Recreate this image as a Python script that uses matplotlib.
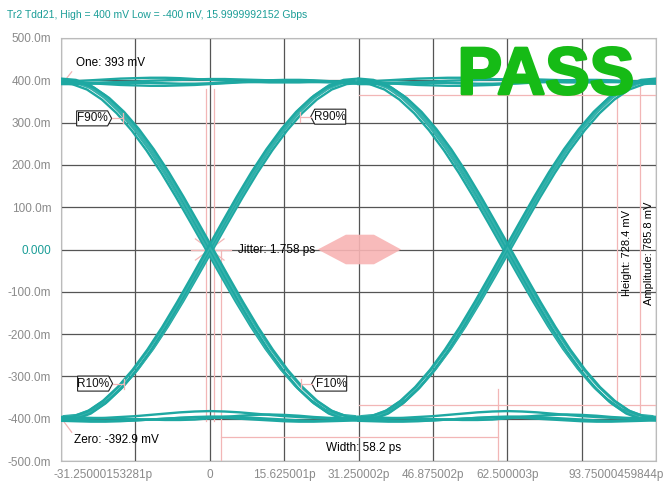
import numpy as np
import matplotlib
matplotlib.use("Agg")
from matplotlib import pyplot as plt
from matplotlib.patches import Polygon
import matplotlib.transforms as mtrans
import matplotlib.patheffects as pe

# ---- data ----
ui_ps = 62.5
# sample times across one transition (ps, relative to the crossing)
edge_t = [-31.25, -28.125, -25.0, -21.875, -18.75, -15.625, -12.5, -9.375, -6.25, -3.125, 0.0,
          3.125, 6.25, 9.375, 12.5, 15.625, 18.75, 21.875, 25.0, 28.125, 31.25]
# falling edge voltage (mV)
edge_mv = [400, 397, 384, 360, 327, 286, 238, 184, 125, 63, 0,
           -63, -125, -184, -238, -286, -327, -360, -384, -397, -400]
# per-trace timing offset (ps) and amplitude factor of the edges
edge_shift = [-0.8, -0.4, 0.0, 0.35, 0.75]
edge_gain = [0.985, 1.0, 1.01, 0.99, 0.995]
# ripple on the one / zero rails (mV) at the same sample times
hi_ripple = [
    [0, 1, 3, 5, 7, 8, 9, 9, 8, 6, 4, 2, 0, -1, -2, -2, -2, -1, 0, 0, 0],
    [0, -2, -4, -6, -8, -9, -10, -10, -9, -8, -6, -4, -2, -1, 0, 1, 1, 1, 0, 0, 0],
    [-4, -4, -3, -2, -1, 0, 2, 3, 4, 5, 6, 6, 5, 4, 3, 2, 0, -1, -2, -3, -4],
    [-6, -6, -5, -4, -3, -3, -3, -4, -5, -5, -4, -3, -1, 1, 3, 4, 4, 3, 1, -2, -5],
]
lo_ripple = [
    [0, 0, 1, 2, 4, 6, 9, 12, 15, 17, 18, 17, 15, 12, 9, 6, 4, 2, 1, 0, 0],
    [0, -2, -4, -5, -5, -4, -2, 0, 2, 4, 5, 5, 4, 2, 0, -2, -4, -5, -4, -2, 0],
    [3, 3, 2, 1, 0, -1, -2, -3, -3, -2, 1, 4, 7, 9, 10, 9, 7, 4, 2, 1, 0],
    [-5, -6, -7, -7, -6, -4, -2, 0, 2, 3, 3, 2, 0, -2, -4, -6, -7, -7, -6, -5, -4],
]
one_mv, zero_mv = 393.0, -392.9
height_top, height_bot = 364.5, -363.9
width_left, width_right = 2.3, 60.5
jitter_ps = 1.758
mask_t = [22.7, 28.6, 34.5, 40.2, 34.5, 28.6]
mask_mv = [0, 35, 35, 0, -35, -35]

xticks = [-31.25, -15.625, 0, 15.625, 31.25, 46.875, 62.5, 78.125, 93.75]
xticklabels = ["-31.25000153281p", "", "0", "15.625001p", "31.250002p", "46.875002p",
               "62.500003p", "", "93.75000459844p"]
yticks = [500, 400, 300, 200, 100, 0, -100, -200, -300, -400, -500]
yticklabels = ["500.0m", "400.0m", "300.0m", "200.0m", "100.0m", "0.000", "-100.0m",
               "-200.0m", "-300.0m", "-400.0m", "-500.0m"]

marker_names = ["F90%", "R90%", "R10%", "F10%"]
marker_t = [-18.3, 18.9, -18.1, 19.1]
marker_mv = [310, 314, -317, -317]
marker_side = ["left", "right", "left", "right"]

TEAL = "#1ea8a2"
PINK = "#f2b6b6"
plt.rcParams["font.family"] = ["Liberation Sans", "DejaVu Sans"]

fig = plt.figure(figsize=(6.63, 4.84), dpi=100)
ax = fig.add_axes([61 / 663, 23 / 484, 595 / 663, 423 / 484])
ax.set_xlim(-31.25, 93.75)
ax.set_ylim(-500, 500)

# ---- eye traces ----
t = np.array(edge_t)
e = np.array(edge_mv, dtype=float)
for w in range(2):
    base = w * ui_ps
    for i, (s, g) in enumerate(zip(edge_shift, edge_gain)):
        c = TEAL if i % 2 == 0 else "#35b2ac"
        ax.plot(t + base + s, e * g, color=c, lw=1.7, zorder=3)
        ax.plot(t + base - s * 0.8, -e * g, color=c, lw=1.7, zorder=3)
    for r in hi_ripple:
        ax.plot(t + base, 397 + np.array(r), color=TEAL, lw=1.7, zorder=3)
    for r in lo_ripple:
        ax.plot(t + base, -400 + np.array(r), color=TEAL, lw=1.7, zorder=3)

# ---- mask ----
ax.add_patch(Polygon(list(zip(mask_t, mask_mv)), closed=True, facecolor="#f8b4b4",
                     edgecolor="none", alpha=0.9, zorder=1))

# ---- measurement lines ----
lk = dict(color=PINK, lw=0.9, zorder=2)
ax.plot([-jitter_ps / 2] * 2, [380, -405], **lk)
ax.plot([jitter_ps / 2] * 2, [380, -405], **lk)
ax.plot([width_left] * 2, [0, -500], **lk)
ax.plot([width_right] * 2, [-330, -500], **lk)
ax.plot([width_left, width_right], [-444, -444], **lk)
ax.plot([31.25, 93.75], [height_top, height_top], **lk)
ax.plot([31.25, 93.75], [-368, -368], **lk)
ax.plot([85.5, 85.5], [height_top, -368], **lk)
ax.plot([90.3, 90.3], [one_mv, zero_mv], **lk)
ax.plot([-4, 4.5], [0, 0], **lk)
ax.plot([-3, 3], [-25, 25], **lk)
ax.plot([-3, 3], [25, -25], **lk)
ax.plot([-31.25, -29.0], [one_mv - 5, 420], **lk)
ax.plot([-31.25, -29.0], [zero_mv - 5, -432], **lk)

# ---- marker labels ----
for name, mt, mv, side in zip(marker_names, marker_t, marker_mv, marker_side):
    tr = (mtrans.Affine2D().scale(1 / fig.dpi) + fig.dpi_scale_trans
          + mtrans.ScaledTranslation(mt, mv, ax.transData))
    sg = -1 if side == "left" else 1
    pts = [(sg * 11, 0), (sg * 15, 7.5), (sg * 46, 7.5), (sg * 46, -7.5), (sg * 15, -7.5)]
    ax.add_patch(Polygon(pts, closed=True, facecolor="white", edgecolor="#222",
                         lw=0.8, transform=tr, zorder=5))
    ax.plot([0, sg * 11], [0, 0], color=PINK, lw=0.9, transform=tr, zorder=5)
    ax.plot([0, 0], [-5, 5], color=PINK, lw=0.9, transform=tr, zorder=5)
    ax.text(sg * 30.5, 0, name, transform=tr, ha="center", va="center",
            fontsize=8.5, color="#111", zorder=6)

# ---- annotation texts ----
ax.text(-28.2, 440, "One: 393 mV", fontsize=8.5, va="center", ha="left", zorder=6)
ax.text(-28.6, -450, "Zero: -392.9 mV", fontsize=8.5, va="center", ha="left", zorder=6)
ax.text(5.9, 0, "Jitter: 1.758 ps", fontsize=8.5, va="center", ha="left", zorder=6)
ax.text(24.4, -470, "Width: 58.2 ps", fontsize=8.5, va="center", ha="left", zorder=6)
ax.text(87.6, -9, "Height: 728.4 mV", fontsize=8, rotation=90, va="center",
        ha="center", zorder=6)
ax.text(92.2, -9, "Amplitude: 785.8 mV", fontsize=8, rotation=90, va="center",
        ha="center", zorder=6)
ax.text(70.6, 408, "PASS", fontsize=48, fontweight="bold", color="#16bb16",
        ha="center", va="center", zorder=7,
        path_effects=[pe.withStroke(linewidth=2, foreground="#16bb16")])

# ---- axes styling ----
ax.set_xticks(xticks)
ax.set_xticklabels(xticklabels)
ax.set_yticks(yticks)
ax.set_yticklabels(yticklabels)
ax.tick_params(length=0, labelsize=8.5, labelcolor="#8a8a8a")
ax.tick_params(axis="x", pad=6)
ax.tick_params(axis="y", pad=7)
ax.grid(True, color="#555555", lw=0.9)
ax.set_axisbelow(True)
for sp in ax.spines.values():
    sp.set_color("#bbbbbb")
for lab in ax.get_yticklabels():
    if lab.get_text() == "0.000":
        lab.set_color("#1a9d97")
xl = ax.get_xticklabels()
xl[0].set_ha("left")
xl[0].set_transform(xl[0].get_transform() + mtrans.ScaledTranslation(-0.08, 0, fig.dpi_scale_trans))
xl[-1].set_ha("right")
xl[-1].set_transform(xl[-1].get_transform() + mtrans.ScaledTranslation(0.08, 0, fig.dpi_scale_trans))

fig.text(7 / 663, 1 - 15 / 484, "Tr2 Tdd21, High = 400 mV Low = -400 mV, 15.9999992152 Gbps",
         color="#1a9d97", fontsize=7.5, va="center", ha="left")

fig.savefig("out.png", dpi=100)
